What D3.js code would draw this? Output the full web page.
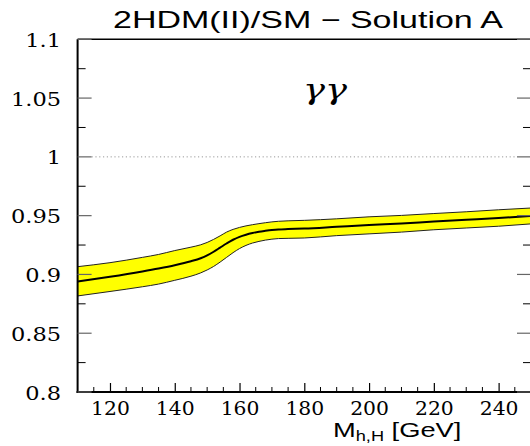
<!DOCTYPE html>
<html>
<head>
<meta charset="utf-8">
<script src="https://cdn.jsdelivr.net/npm/d3@7"></script>
<style>
  html, body { margin: 0; padding: 0; background: #fff; }
  svg { display: block; }
</style>
</head>
<body>
<svg id="chart" width="530" height="446"></svg>
<script>
// Higgs mass points (GeV)
const masses = [110, 120, 130, 135, 140, 145, 148, 150, 152, 154, 156, 158, 160, 162, 164, 166, 168, 170, 172, 175, 180, 190, 200, 210, 220, 230, 240, 250];
// Central ratio 2HDM(II)/SM for gamma gamma
const central = [0.894, 0.898, 0.9025, 0.905, 0.9078, 0.9112, 0.9138, 0.9162, 0.9193, 0.9228, 0.9263, 0.9295, 0.932, 0.9338, 0.9352, 0.9363, 0.9371, 0.9378, 0.9383, 0.9386, 0.939, 0.9405, 0.942, 0.9433, 0.945, 0.9465, 0.948, 0.9497];
// Band edges
const upper = [0.9066, 0.910, 0.9145, 0.917, 0.9203, 0.9232, 0.9252, 0.9272, 0.9298, 0.9328, 0.936, 0.9383, 0.940, 0.9413, 0.9423, 0.9432, 0.944, 0.9447, 0.9452, 0.9456, 0.946, 0.9473, 0.949, 0.9502, 0.9518, 0.9533, 0.955, 0.9565];
const lower = [0.8817, 0.8855, 0.8895, 0.8918, 0.895, 0.8985, 0.9013, 0.9038, 0.9068, 0.9105, 0.9145, 0.9185, 0.922, 0.9247, 0.9267, 0.9281, 0.9292, 0.930, 0.9305, 0.9307, 0.931, 0.933, 0.9345, 0.936, 0.938, 0.9395, 0.941, 0.943];

const xMajorTicks = [120, 140, 160, 180, 200, 220, 240];
const yMajorTicks = [0.8, 0.85, 0.9, 0.95, 1.0, 1.05, 1.1];
const yTickLabels = ["0.8", "0.85", "0.9", "0.95", "1", "1.05", "1.1"];

const SERIF = "'DejaVu Serif', serif";
const SANS = "'Liberation Sans', Arial, Helvetica, sans-serif";

const svg = d3.select("#chart");
const pLeft = 77.6, pRight = 531, pTop = 39.3, pBottom = 392;

const x = d3.scaleLinear().domain([110, 250]).range([pLeft, pRight]);
const y = d3.scaleLinear().domain([0.8, 1.1]).range([pBottom, pTop]);

const pts = masses.map((m, i) => ({ m, c: central[i], u: upper[i], l: lower[i] }));

// reference line at ratio = 1
svg.append("line")
  .attr("x1", pLeft + 14).attr("x2", pRight - 14)
  .attr("y1", y(1)).attr("y2", y(1))
  .attr("stroke", "#999").attr("stroke-width", 1)
  .attr("stroke-dasharray", "1.2,2.6");

// uncertainty band
const area = d3.area().curve(d3.curveMonotoneX)
  .x(d => x(d.m)).y0(d => y(d.l)).y1(d => y(d.u));
svg.append("path").datum(pts).attr("d", area)
  .attr("fill", "#ffff00").attr("stroke", "none");

const edge = key => d3.line().curve(d3.curveMonotoneX).x(d => x(d.m)).y(d => y(d[key]));
["u", "l"].forEach(k => {
  svg.append("path").datum(pts).attr("d", edge(k))
    .attr("fill", "none").attr("stroke", "#222").attr("stroke-width", 1);
});
svg.append("path").datum(pts).attr("d", edge("c"))
  .attr("fill", "none").attr("stroke", "#000").attr("stroke-width", 2);

// frame
svg.append("line").attr("x1", pLeft).attr("x2", pRight).attr("y1", pTop).attr("y2", pTop)
  .attr("stroke", "#000").attr("stroke-width", 1.5);
svg.append("line").attr("x1", pLeft).attr("x2", pLeft).attr("y1", pTop).attr("y2", pBottom + 1)
  .attr("stroke", "#000").attr("stroke-width", 2);
svg.append("line").attr("x1", pLeft - 1).attr("x2", pRight).attr("y1", pBottom).attr("y2", pBottom)
  .attr("stroke", "#000").attr("stroke-width", 2);

// y ticks, left and right
const yMinor = d3.range(0.825, 1.1, 0.05);
const gy = svg.append("g");
yMajorTicks.forEach(v => {
  gy.append("line").attr("x1", pLeft).attr("x2", pLeft + 14).attr("y1", y(v)).attr("y2", y(v))
    .attr("stroke", "#666").attr("stroke-width", 1.2);
  gy.append("line").attr("x1", pRight - 14).attr("x2", pRight).attr("y1", y(v)).attr("y2", y(v))
    .attr("stroke", "#666").attr("stroke-width", 1.2);
});
yMinor.forEach(v => {
  gy.append("line").attr("x1", pLeft).attr("x2", pLeft + 8).attr("y1", y(v)).attr("y2", y(v))
    .attr("stroke", "#000").attr("stroke-width", 1);
  gy.append("line").attr("x1", pRight - 8).attr("x2", pRight).attr("y1", y(v)).attr("y2", y(v))
    .attr("stroke", "#000").attr("stroke-width", 1);
});
// wide serif labels
yMajorTicks.forEach((v, i) => {
  gy.append("g").attr("transform", `translate(61,${y(v) + 7.5}) scale(1.25,1)`)
    .append("text").attr("text-anchor", "end")
    .style("font-family", SERIF).style("font-size", "18px")
    .text(yTickLabels[i]);
});

// x axis ticks
const xAxis = d3.axisBottom(x).tickValues(xMajorTicks).tickSize(-9).tickPadding(0).tickFormat(d3.format("d"));
const gx = svg.append("g").attr("transform", `translate(0,${pBottom})`).call(xAxis);
gx.select(".domain").remove();
gx.selectAll(".tick line").attr("stroke", "#000").attr("stroke-width", 1.2);
gx.selectAll(".tick text")
  .attr("y", 0).attr("dy", 0)
  .attr("transform", "translate(0,23) scale(1.13,1)")
  .style("font-family", SERIF)
  .style("font-size", "18px").attr("fill", "#000");
const xMinor = d3.range(115, 250, 5).filter(v => v % 20 !== 0);
svg.append("g").selectAll("line").data(xMinor).join("line")
  .attr("x1", d => x(d)).attr("x2", d => x(d))
  .attr("y1", pBottom).attr("y2", pBottom - 5)
  .attr("stroke", "#000").attr("stroke-width", 1);

// title
svg.append("text").attr("x", 113).attr("y", 28)
  .style("font-family", SANS).style("font-size", "24px")
  .attr("textLength", 390).attr("lengthAdjust", "spacingAndGlyphs")
  .text("2HDM(II)/SM \u2212 Solution A");

// process label
svg.append("text").attr("x", 303).attr("y", 99)
  .style("font-family", SERIF).style("font-style", "italic").style("font-size", "27px")
  .attr("textLength", 44).attr("lengthAdjust", "spacingAndGlyphs")
  .text("\u03b3\u03b3");

// x axis title
const xt = svg.append("g").attr("transform", "translate(333,437) scale(1.3,1)")
  .append("text").style("font-family", SANS).style("font-size", "21px");
xt.append("tspan").text("M");
xt.append("tspan").style("font-size", "14px").attr("dy", 4).text("h,H");
xt.append("tspan").attr("dy", -4).text(" [GeV]");
</script>
</body>
</html>
